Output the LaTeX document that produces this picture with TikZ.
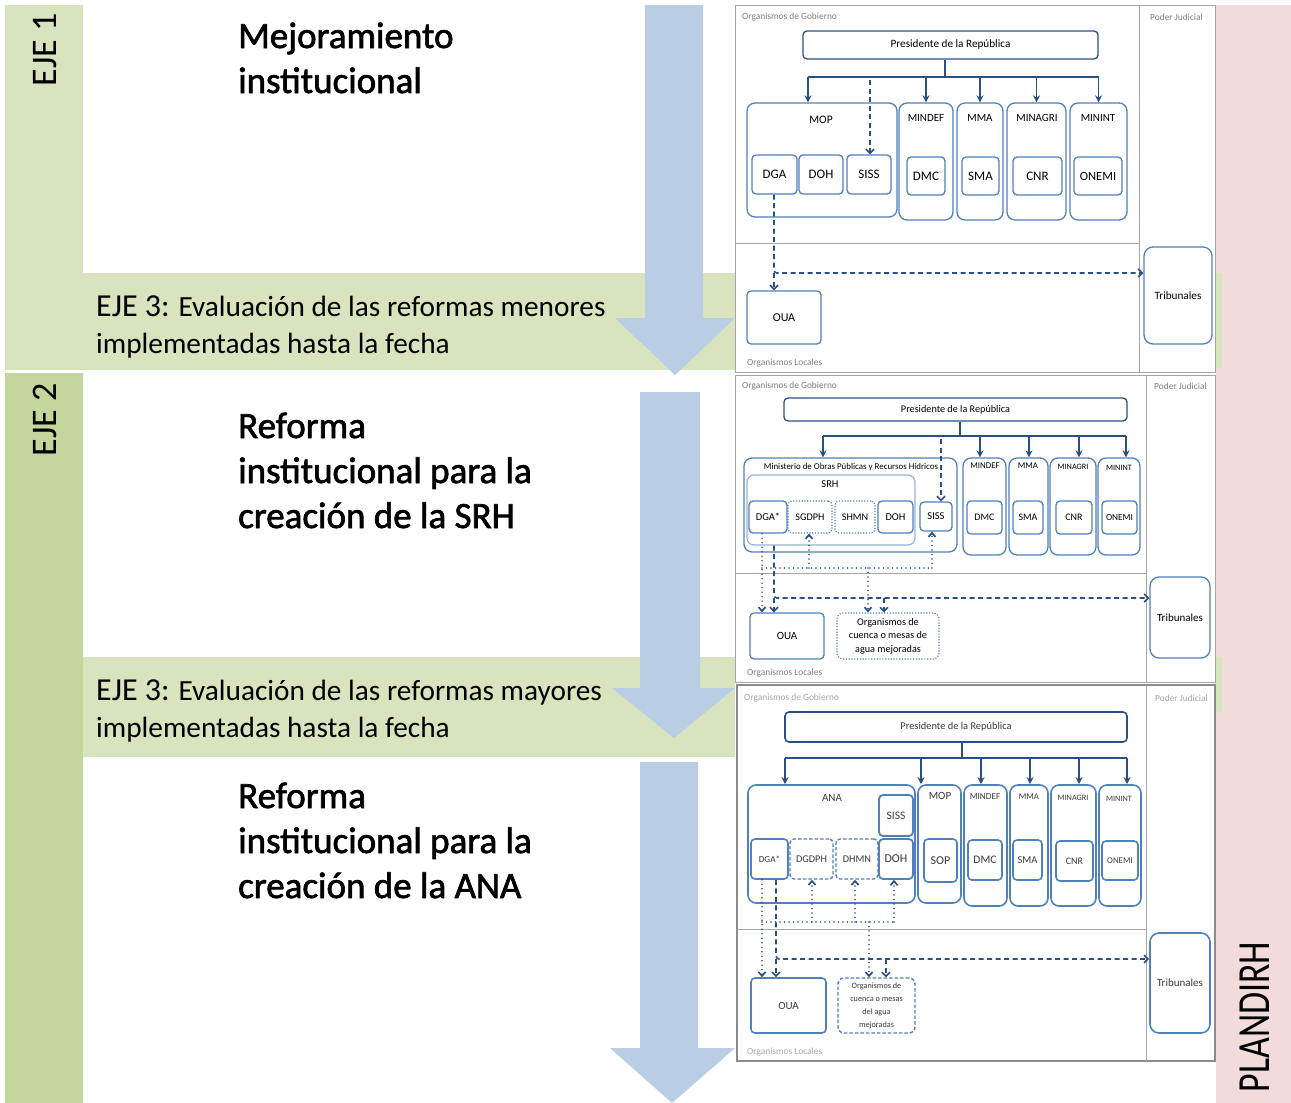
\documentclass[tikz,border=0pt]{standalone}
\usepackage{fontspec}
\setmainfont{Carlito}
\newfontfamily\heavyfont[FakeBold=1.8]{Carlito}
\usetikzlibrary{arrows.meta}
\definecolor{gLight}{HTML}{D7E4BD}
\definecolor{gDark}{HTML}{C3D69B}
\definecolor{pinkS}{HTML}{F2DCDB}
\definecolor{arrB}{HTML}{B9CDE5}
\definecolor{dblue}{HTML}{2A4F82}
\definecolor{bblue}{HTML}{4F81BD}
\definecolor{lblue}{HTML}{95B3D7}
\definecolor{pgray}{HTML}{A6A6A6}
\definecolor{tgray}{HTML}{7F7F7F}
\definecolor{ttext}{HTML}{3A3A3A}
\newcommand{\myfs}[2]{\fontsize{#1}{#2}\selectfont}
\newcommand{\mkbox}[7]{\node[#1, minimum width={#5-#3}, minimum height={#6-#4}] (#2) at ({(#3+#5)/2},{(#4+#6)/2}) {#7};}
\begin{document}
\begin{tikzpicture}[x=1pt,y=-1pt,
 bx/.style={draw=bblue, line width=1.3pt, rounded corners=4pt, fill=white, inner sep=0pt, align=center},
 mbx/.style={bx, rounded corners=8pt},
 pbx/.style={bx, draw=dblue},
 dotbx/.style={bx, dash pattern=on 1.2pt off 1.6pt, line width=1.1pt},
 dshbx/.style={bx, dash pattern=on 3.5pt off 2pt},
 srhbx/.style={bx, draw=lblue, line width=1.2pt, rounded corners=7pt},
 ln/.style={draw=dblue, line width=1.6pt},
 arr/.style={ln, -{Stealth[length=7pt,width=7pt]}},
 dsh/.style={ln, dash pattern=on 5pt off 3.5pt, rounded corners=3pt},
 dsharr/.style={dsh, -{Straight Barb[length=4pt,width=8pt]}},
 dt/.style={draw=dblue, line width=1.7pt, line cap=round, dash pattern=on 0pt off 4.5pt},
 dtarr/.style={dt, -{Straight Barb[length=4pt,width=7pt]}},
 glab/.style={anchor=west, inner sep=0pt, text=tgray, font=\myfs{9.4}{10}},
 title/.style={anchor=base west, inner sep=0pt, font=\heavyfont\myfs{37}{45}},
 band/.style={anchor=base west, inner sep=0pt, font=\myfs{29.3}{37}},
 p3/.style={text=ttext}
]
\useasboundingbox (0,0) rectangle (1291,1103);
\fill[white] (0,0) rectangle (1291,1103);
% ---------- background strips ----------
\fill[gLight] (5,5) rectangle (83,370);
\fill[gDark] (5,373) rectangle (83,1103);
\fill[pinkS] (1216,5) rectangle (1291,1103);
\fill[gLight] (83,273) rectangle (735,370);
\fill[gLight] (83,657) rectangle (735,757);
\fill[gLight] (1215,273) rectangle (1222,368);
\fill[gLight] (1215,657) rectangle (1222,712);
% ---------- big blue arrows ----------
\fill[arrB] (645,5) -- (703,5) -- (703,318) -- (735,318) -- (675,375) -- (615,318) -- (645,318) -- cycle;
\fill[arrB] (640,392) -- (700,392) -- (700,688) -- (735,688) -- (674,738) -- (612,688) -- (640,688) -- cycle;
\fill[arrB] (640,762) -- (698,762) -- (698,1048) -- (735,1048) -- (672,1103) -- (610,1048) -- (640,1048) -- cycle;
% ---------- side labels ----------
\node[rotate=90, font=\myfs{36}{40}] (eje1) at (45,50) {EJE 1};
\node[rotate=90, font=\myfs{36}{40}] (eje2) at (45,420) {EJE 2};
\node[rotate=90, font=\myfs{46}{50}] (plan) at (1255,1017) {\scalebox{0.78}[1]{PLANDIRH}};
% ---------- titles ----------
\node[title] (t1) at (238,48) {\vtop{\hbox{Mejoramiento}\hbox{institucional}}};
\node[title] (t2) at (238,438) {\vtop{\hbox{Reforma}\hbox{institucional para la}\hbox{creación de la SRH}}};
\node[title] (t3) at (238,808) {\vtop{\hbox{Reforma}\hbox{institucional para la}\hbox{creación de la ANA}}};
\node[band] (b1) at (96,316) {\vtop{\hbox{{\myfs{32}{37}EJE 3:} Evaluación de las reformas menores}\hbox{implementadas hasta la fecha}}};
\node[band] (b2) at (96,700) {\vtop{\hbox{{\myfs{32}{37}EJE 3:} Evaluación de las reformas mayores}\hbox{implementadas hasta la fecha}}};

% =================== PANEL 1 ===================
\draw[pgray, line width=1pt, fill=white] (735,5) rectangle (1215,372);
\draw[pgray, line width=1pt] (1139,5) -- (1139,372);
\draw[pgray, line width=1pt] (735,243) -- (1139,243);
\node[glab] (og1) at (742,17) {Organismos de Gobierno};
\node[glab] (pj1) at (1150,17) {Poder Judicial};
\node[glab] (ol1) at (747,363) {Organismos Locales};
\mkbox{pbx,font=\myfs{11.2}{13}}{pres1}{803}{31}{1098}{59}{Presidente de la República}
\mkbox{mbx}{mop1}{747}{103}{897}{217}{}
\node[font=\myfs{11.5}{13}] (mop1l) at (821,120) {MOP};
\mkbox{bx,font=\myfs{13}{14}}{dga1}{752}{155}{797}{194}{DGA}
\mkbox{bx,font=\myfs{13}{14}}{doh1}{799}{155}{843}{194}{DOH}
\mkbox{bx,font=\myfs{13}{14}}{siss1}{847}{155}{891}{194}{SISS}
\mkbox{mbx}{mindef1}{899}{103}{953}{220}{}
\node[font=\myfs{11}{13}] (mindef1l) at (926,118) {MINDEF};
\mkbox{bx,font=\myfs{13}{14}}{dmc1}{907}{157}{945}{195}{DMC}
\mkbox{mbx}{mma1}{957}{103}{1003}{220}{}
\node[font=\myfs{11}{13}] (mma1l) at (980,118) {MMA};
\mkbox{bx,font=\myfs{13}{14}}{sma1}{962}{157}{999}{195}{SMA}
\mkbox{mbx}{minagri1}{1007}{103}{1066}{220}{}
\node[font=\myfs{11}{13}] (minagri1l) at (1037,118) {MINAGRI};
\mkbox{bx,font=\myfs{13}{14}}{cnr1}{1013}{157}{1062}{195}{CNR}
\mkbox{mbx}{minint1}{1070}{103}{1127}{220}{}
\node[font=\myfs{11}{13}] (minint1l) at (1098,118) {MININT};
\mkbox{bx,font=\myfs{12.5}{14}}{onemi1}{1074}{157}{1122}{195}{ONEMI}
\mkbox{bx,font=\myfs{12}{13}}{oua1}{747}{291}{821}{344}{OUA}
\mkbox{bx,rounded corners=9pt,font=\myfs{11.2}{13}}{trib1}{1144}{247}{1212}{344}{Tribunales}
\coordinate (bus1) at (945,77);
\draw[ln] (945,0 |- pres1.south) -- (bus1);
\draw[ln] (808,77) -- (minint1.north |- bus1);
\draw[arr] (808,77) -- (808,0 |- mop1.north);
\draw[arr] (mindef1.north |- bus1) -- (mindef1.north);
\draw[arr] (mma1.north |- bus1) -- (mma1.north);
\draw[arr] (minagri1.north |- bus1) -- (minagri1.north);
\draw[arr] (minint1.north |- bus1) -- (minint1.north);
\draw[dsharr] (870,80) -- (870,0 |- siss1.north);
\coordinate (c1) at (774,273);
\draw[dsharr] (774,0 |- dga1.south) -- (c1) -- (trib1.west |- c1);
\draw[dsharr] (c1) -- (774,0 |- oua1.north);

% =================== PANEL 2 ===================
\draw[pgray, line width=1pt, fill=white] (735,375) rectangle (1215,682);
\draw[pgray, line width=1pt] (1146,375) -- (1146,682);
\draw[pgray, line width=1pt] (735,573) -- (1146,573);
\node[glab] (og2) at (742,386) {Organismos de Gobierno};
\node[glab] (pj2) at (1154,386) {Poder Judicial};
\node[glab] (ol2) at (747,673) {Organismos Locales};
\mkbox{pbx,font=\myfs{10.2}{12}}{pres2}{784}{398}{1127}{421}{Presidente de la República}
\mkbox{mbx}{mopr2}{744}{458}{957}{552}{}
\node[font=\myfs{8.9}{10}] (mopr2l) at (851,467) {Ministerio de Obras Públicas y Recursos Hídricos};
\mkbox{srhbx}{srh2}{747}{475}{915}{545}{}
\node[font=\myfs{10.5}{12}] (srh2l) at (830,484) {SRH};
\mkbox{bx,font=\myfs{10.5}{12}}{dga2}{749}{501}{787}{533}{DGA*}
\mkbox{dotbx,font=\myfs{10.2}{12}}{sgdph2}{788}{501}{832}{533}{SGDPH}
\mkbox{dotbx,font=\myfs{10.2}{12}}{shmn2}{835}{501}{875}{533}{SHMN}
\mkbox{bx,font=\myfs{10.5}{12}}{doh2}{878}{501}{913}{533}{DOH}
\mkbox{bx,font=\myfs{10.5}{12}}{siss2}{920}{502}{952}{531}{SISS}
\mkbox{mbx}{mindef2}{963}{458}{1006}{555}{}
\node[font=\myfs{8.8}{10}] (mindef2l) at (985,466) {MINDEF};
\mkbox{bx,font=\myfs{10}{12}}{dmc2}{967}{501}{1002}{534}{DMC}
\mkbox{mbx}{mma2}{1009}{458}{1048}{555}{}
\node[font=\myfs{8.8}{10}] (mma2l) at (1028,466) {MMA};
\mkbox{bx,font=\myfs{10}{12}}{sma2}{1013}{501}{1043}{534}{SMA}
\mkbox{mbx}{minagri2}{1050}{458}{1096}{555}{}
\node[font=\myfs{8.2}{10}] (minagri2l) at (1073,467) {MINAGRI};
\mkbox{bx,font=\myfs{10}{12}}{cnr2}{1056}{501}{1092}{534}{CNR}
\mkbox{mbx}{minint2}{1098}{458}{1140}{555}{}
\node[font=\myfs{8.2}{10}] (minint2l) at (1119,468) {MININT};
\mkbox{bx,font=\myfs{9.3}{11}}{onemi2}{1102}{501}{1137}{534}{ONEMI}
\mkbox{bx,font=\myfs{11}{12}}{oua2}{750}{613}{824}{659}{OUA}
\mkbox{dotbx,rounded corners=6pt,font=\myfs{10.2}{13.5}}{cuenca2}{837}{613}{939}{659}{Organismos de\\cuenca o mesas de\\agua mejoradas}
\mkbox{bx,rounded corners=9pt,font=\myfs{11}{12}}{trib2}{1150}{577}{1210}{658}{Tribunales}
\coordinate (bus2) at (960,436);
\draw[ln] (960,0 |- pres2.south) -- (bus2);
\draw[ln] (823,436) -- (1126,436);
\draw[arr] (823,436) -- (823,0 |- mopr2.north);
\draw[arr] (980,436) -- (980,0 |- mindef2.north);
\draw[arr] (1029,436) -- (1029,0 |- mma2.north);
\draw[arr] (1079,436) -- (1079,0 |- minagri2.north);
\draw[arr] (1126,436) -- (1126,0 |- minint2.north);
\draw[dsharr] (941,439) -- (941,0 |- siss2.north);
% dotted links
\coordinate (d2) at (762,568);
\draw[dtarr] (762,0 |- dga2.south) -- (762,0 |- oua2.north);
\draw[dt] (d2) -- (932,568);
\draw[dtarr] (809,568) -- (809,0 |- sgdph2.south);
\draw[dtarr] (932,568) -- (932,0 |- siss2.south);
\draw[dtarr] (868,568) -- (868,0 |- cuenca2.north);
% dashed links
\coordinate (c2) at (774,598);
\draw[dsharr] (774,0 |- srh2.south) -- (c2) -- (trib2.west |- c2);
\draw[dsharr] (c2) -- (774,0 |- oua2.north);
\draw[dsharr] (884,598) -- (884,0 |- cuenca2.north);

% =================== PANEL 3 ===================
\draw[black!45, line width=1.5pt, fill=white] (737,685) rectangle (1215,1061);
\draw[pgray, line width=1pt] (1146,685) -- (1146,1061);
\draw[pgray, line width=1pt] (737,929) -- (1146,929);
\node[glab, text=black!35] (og3) at (744,698) {Organismos de Gobierno};
\node[glab, text=black!35] (pj3) at (1155,698) {Poder Judicial};
\node[glab, text=black!35] (ol3) at (747,1052) {Organismos Locales};
\mkbox{pbx,p3,line width=1.6pt,font=\myfs{10.4}{12}}{pres3}{785}{712}{1127}{742}{Presidente de la República}
\mkbox{mbx,line width=1.6pt}{ana3}{748}{785}{915}{903}{}
\node[p3,font=\myfs{11}{12}] (ana3l) at (832,798) {ANA};
\mkbox{bx,p3,line width=1.8pt,font=\myfs{11.5}{12}}{siss3}{879}{795}{913}{836}{SISS}
\mkbox{bx,p3,line width=1.6pt,font=\myfs{9.2}{10}}{dga3}{751}{839}{788}{879}{DGA*}
\mkbox{dshbx,p3,line width=1.4pt,font=\myfs{10.3}{11}}{dgdph3}{790}{839}{833}{879}{DGDPH}
\mkbox{dshbx,p3,line width=1.4pt,font=\myfs{10.3}{11}}{dhmn3}{836}{839}{878}{879}{DHMN}
\mkbox{bx,p3,line width=1.8pt,font=\myfs{12}{12}}{doh3}{879}{839}{913}{879}{DOH}
\mkbox{mbx,line width=1.6pt}{mop3}{918}{785}{961}{903}{}
\node[p3,font=\myfs{11}{12}] (mop3l) at (940,796) {MOP};
\mkbox{bx,p3,line width=1.6pt,font=\myfs{12}{12}}{sop3}{924}{839}{957}{882}{SOP}
\mkbox{mbx,line width=1.6pt}{mindef3}{964}{785}{1007}{906}{}
\node[p3,font=\myfs{9.2}{10}] (mindef3l) at (985,797) {MINDEF};
\mkbox{bx,p3,line width=1.6pt,font=\myfs{11.5}{12}}{dmc3}{968}{840}{1002}{880}{DMC}
\mkbox{mbx,line width=1.6pt}{mma3}{1010}{785}{1048}{906}{}
\node[p3,font=\myfs{8.8}{10}] (mma3l) at (1029,797) {MMA};
\mkbox{bx,p3,line width=1.6pt,font=\myfs{10.5}{12}}{sma3}{1013}{840}{1042}{880}{SMA}
\mkbox{mbx,line width=1.6pt}{minagri3}{1051}{785}{1096}{906}{}
\node[p3,font=\myfs{8.2}{10}] (minagri3l) at (1073,798) {MINAGRI};
\mkbox{bx,p3,line width=1.6pt,font=\myfs{10}{12}}{cnr3}{1056}{841}{1093}{881}{CNR}
\mkbox{mbx,line width=1.6pt}{minint3}{1099}{785}{1141}{906}{}
\node[p3,font=\myfs{8.2}{10}] (minint3l) at (1119,799) {MININT};
\mkbox{bx,p3,line width=1.6pt,font=\myfs{8.8}{10}}{onemi3}{1102}{841}{1138}{880}{ONEMI}
\mkbox{bx,p3,line width=1.6pt,font=\myfs{11}{12}}{oua3}{751}{978}{826}{1033}{OUA}
\mkbox{dshbx,p3,line width=1.4pt,rounded corners=6pt,font=\myfs{8.2}{13}}{cuenca3}{838}{978}{915}{1033}{Organismos de\\cuenca o mesas\\del agua\\mejoradas}
\mkbox{bx,p3,line width=1.6pt,rounded corners=9pt,font=\myfs{11}{12}}{trib3}{1150}{933}{1210}{1033}{Tribunales}
\coordinate (bus3) at (962,758);
\draw[ln] (962,0 |- pres3.south) -- (bus3);
\draw[ln] (785,758) -- (1127,758);
\draw[arr] (785,758) -- (785,0 |- ana3.north);
\draw[arr] (921,758) -- (921,0 |- mop3.north);
\draw[arr] (981,758) -- (981,0 |- mindef3.north);
\draw[arr] (1030,758) -- (1030,0 |- mma3.north);
\draw[arr] (1079,758) -- (1079,0 |- minagri3.north);
\draw[arr] (1127,758) -- (1127,0 |- minint3.north);
% dotted links
\coordinate (d3) at (762,922);
\draw[dtarr] (762,0 |- dga3.south) -- (762,0 |- oua3.north);
\draw[dt] (d3) -- (894,922);
\draw[dtarr] (812,922) -- (812,0 |- dgdph3.south);
\draw[dtarr] (855,922) -- (855,0 |- dhmn3.south);
\draw[dtarr] (894,922) -- (894,0 |- doh3.south);
\draw[dtarr] (869,922) -- (869,0 |- cuenca3.north);
% dashed links
\coordinate (c3) at (776,959);
\draw[dsharr] (776,0 |- dga3.south) -- (c3) -- (trib3.west |- c3);
\draw[dsharr] (c3) -- (776,0 |- oua3.north);
\draw[dsharr] (886,959) -- (886,0 |- cuenca3.north);
\end{tikzpicture}
\end{document}
